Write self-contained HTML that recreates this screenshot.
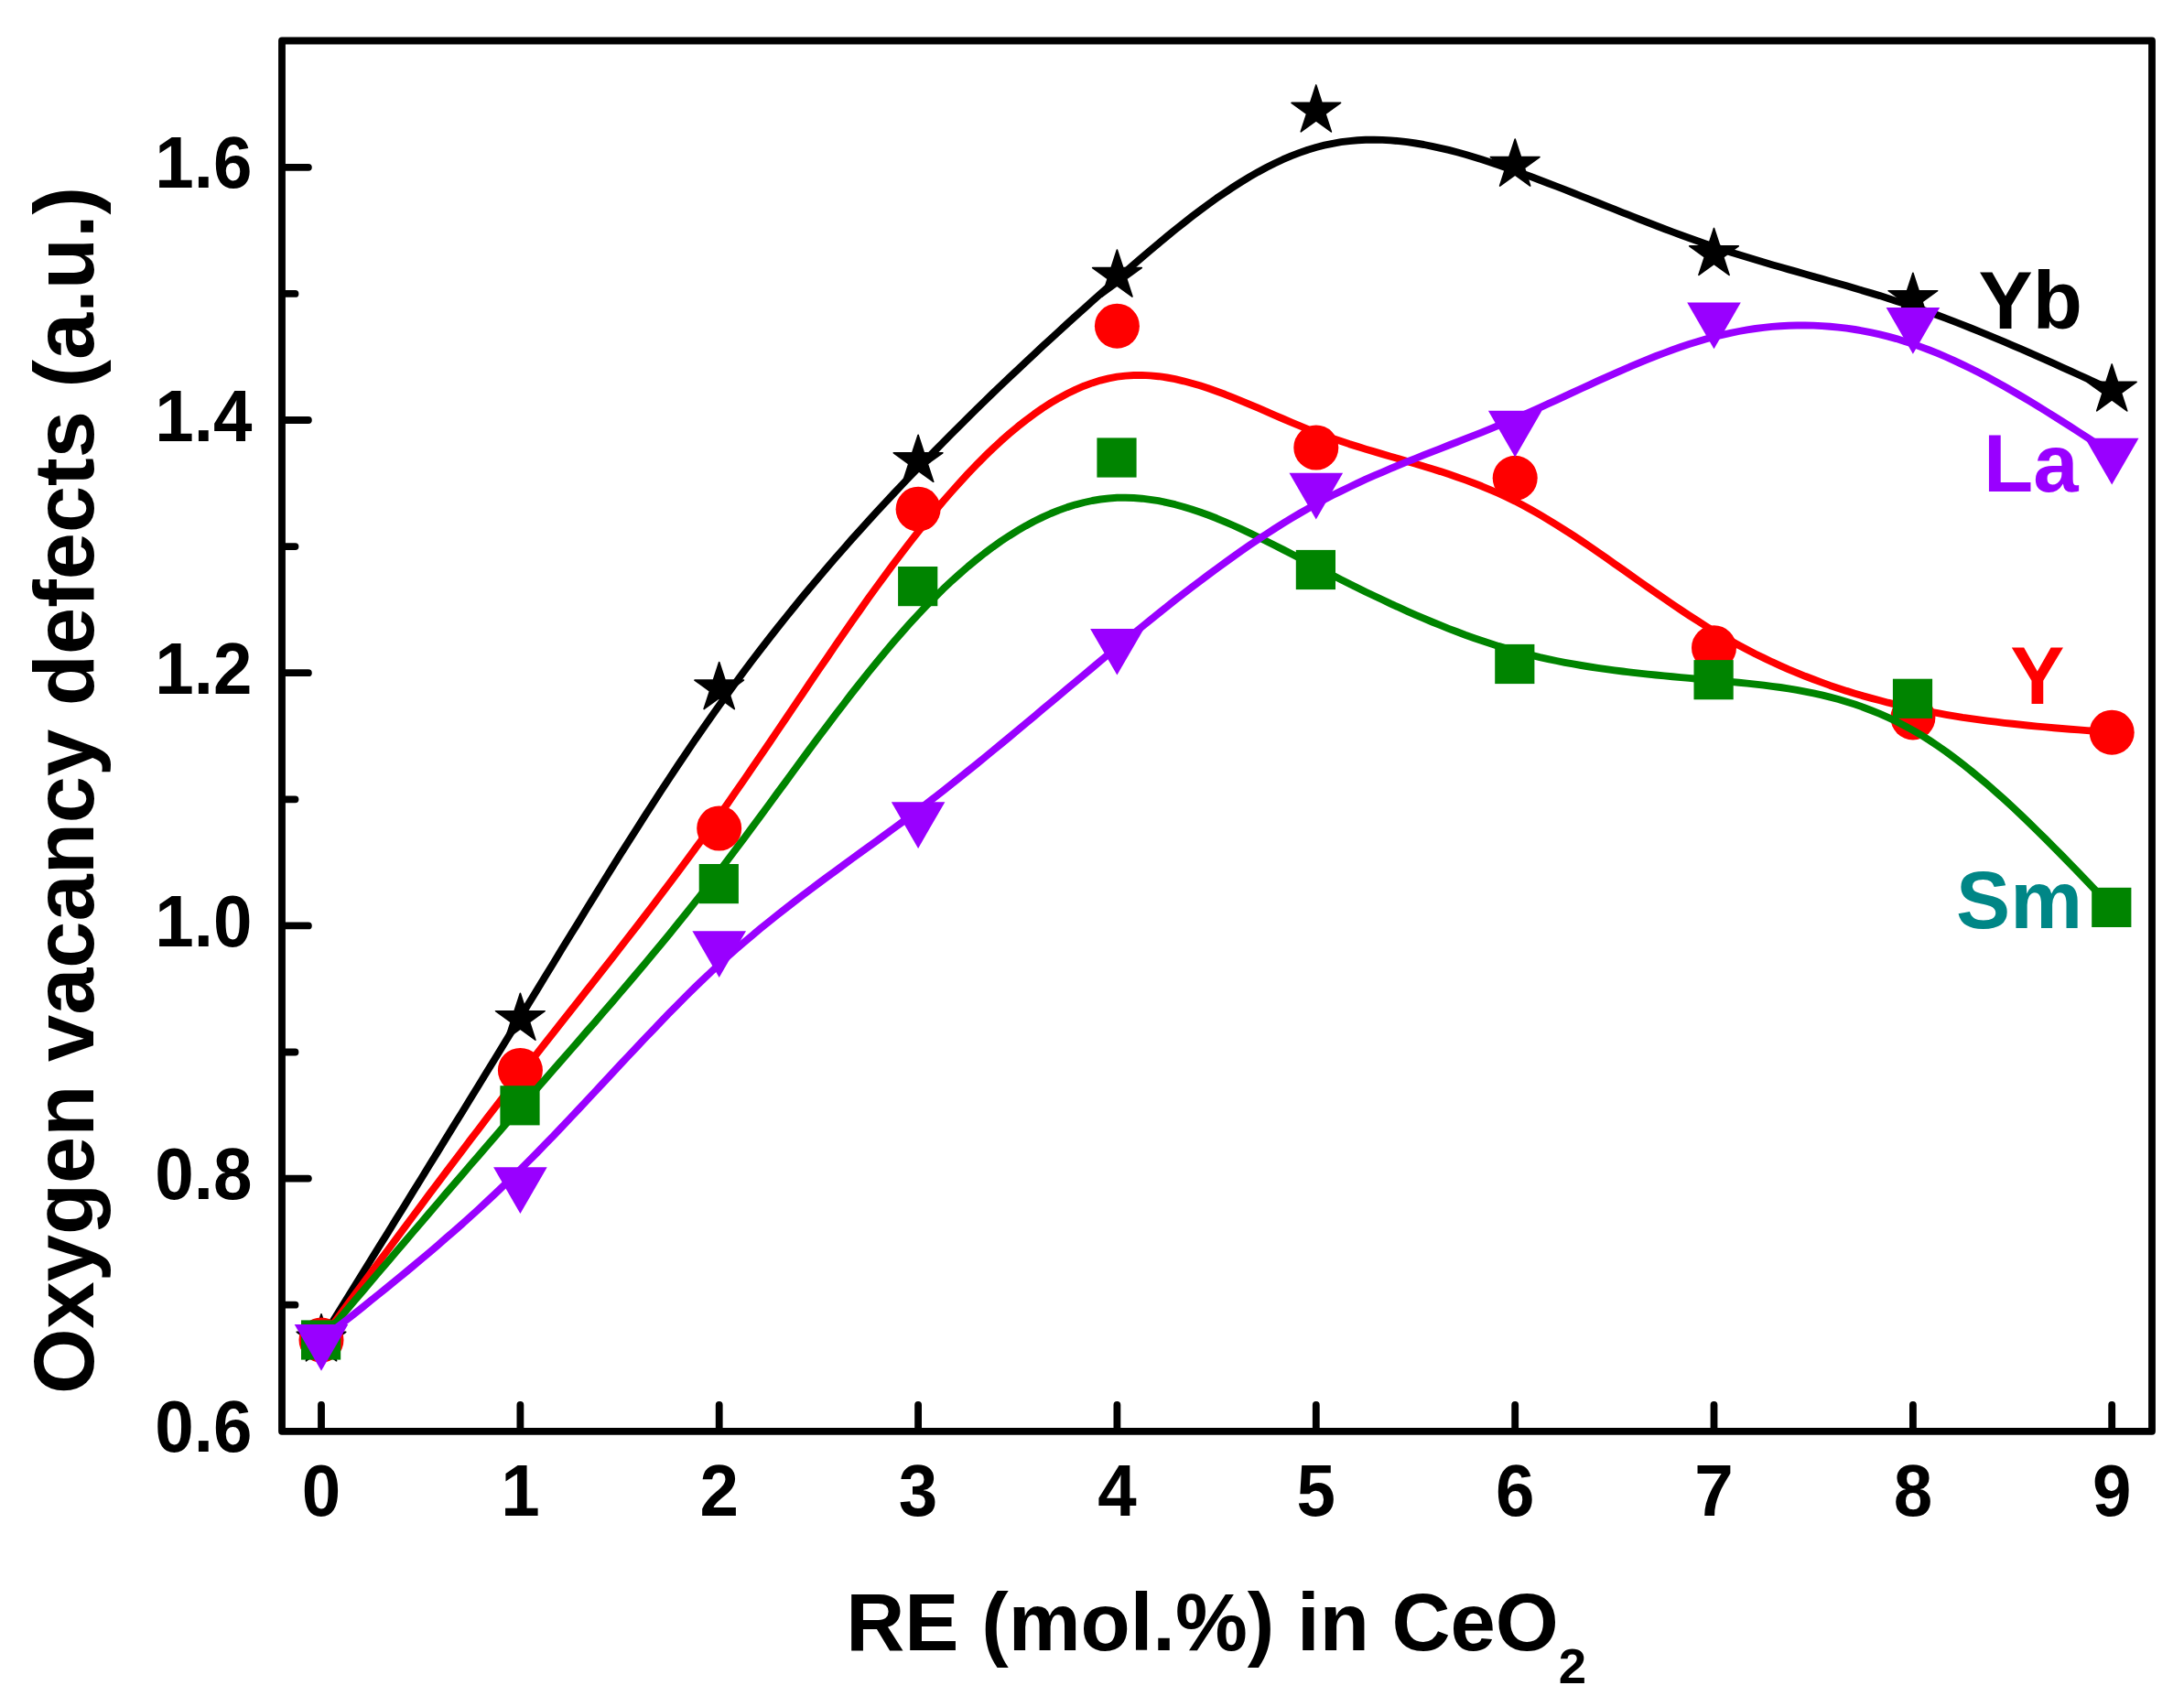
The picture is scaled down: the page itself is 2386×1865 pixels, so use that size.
<!DOCTYPE html>
<html lang="en"><head><meta charset="utf-8"><title>Oxygen vacancy defects vs RE (mol.%) in CeO2</title>
<style>html,body{margin:0;padding:0;background:#fff;}body{width:2386px;height:1865px;overflow:hidden;}svg{display:block;}text{font-kerning:none;font-family:"Liberation Sans",sans-serif;font-weight:bold;}</style></head><body>
<svg width="2386" height="1865" viewBox="0 0 2386 1865">
<rect width="2386" height="1865" fill="#fff"/>
<g fill="#000000" stroke="none">
<path d="M351.0 1464.0 L360.1 1449.4 L369.1 1434.8 L378.2 1420.2 L387.2 1405.6 L396.3 1390.9 L405.3 1376.3 L414.4 1361.7 L423.5 1347.1 L432.5 1332.4 L441.6 1317.8 L450.6 1303.1 L459.7 1288.5 L468.7 1273.8 L477.8 1259.1 L486.8 1244.4 L495.9 1229.7 L505.0 1215.0 L514.0 1200.3 L523.1 1185.5 L532.1 1170.8 L541.2 1156.0 L550.2 1141.2 L559.3 1126.4 L568.4 1111.6 L577.4 1096.7 L586.5 1081.9 L595.5 1067.0 L604.6 1052.2 L613.6 1037.3 L622.7 1022.5 L631.8 1007.8 L640.8 993.0 L649.9 978.3 L658.9 963.7 L668.0 949.2 L677.0 934.7 L686.1 920.4 L695.2 906.1 L704.2 891.9 L713.3 877.9 L722.3 863.9 L731.4 850.1 L740.4 836.5 L749.5 823.0 L758.5 809.6 L767.6 796.5 L776.7 783.5 L785.7 770.7 L794.8 758.1 L803.8 745.7 L812.9 733.4 L821.9 721.4 L831.0 709.5 L840.1 697.8 L849.1 686.3 L858.2 674.9 L867.2 663.7 L876.3 652.6 L885.3 641.7 L894.4 631.0 L903.5 620.3 L912.5 609.8 L921.6 599.5 L930.6 589.2 L939.7 579.1 L948.7 569.1 L957.8 559.2 L966.9 549.4 L975.9 539.7 L985.0 530.1 L994.0 520.6 L1003.1 511.2 L1012.1 501.8 L1021.2 492.6 L1030.2 483.4 L1039.3 474.3 L1048.4 465.2 L1057.4 456.2 L1066.5 447.3 L1075.5 438.5 L1084.6 429.7 L1093.6 421.0 L1102.7 412.4 L1111.8 403.8 L1120.8 395.3 L1129.9 386.8 L1138.9 378.4 L1148.0 370.1 L1157.0 361.8 L1166.1 353.5 L1175.2 345.3 L1184.2 337.2 L1193.3 329.0 L1202.3 321.0 L1211.4 313.0 L1220.4 305.0 L1229.5 297.0 L1238.6 289.1 L1247.6 281.3 L1256.7 273.6 L1265.7 265.9 L1274.8 258.4 L1283.8 251.0 L1292.9 243.8 L1302.0 236.7 L1311.0 229.8 L1320.1 223.1 L1329.1 216.6 L1338.2 210.4 L1347.2 204.4 L1356.3 198.6 L1365.3 193.1 L1374.4 187.9 L1383.5 183.0 L1392.5 178.5 L1401.6 174.2 L1410.6 170.4 L1419.7 166.9 L1428.7 163.7 L1437.8 161.0 L1446.9 158.7 L1455.9 156.8 L1465.0 155.2 L1474.0 154.1 L1483.1 153.3 L1492.1 152.8 L1501.2 152.7 L1510.3 152.9 L1519.3 153.4 L1528.4 154.1 L1537.4 155.2 L1546.5 156.5 L1555.5 158.0 L1564.6 159.8 L1573.7 161.8 L1582.7 163.9 L1591.8 166.3 L1600.8 168.8 L1609.9 171.5 L1618.9 174.3 L1628.0 177.2 L1637.0 180.3 L1646.1 183.4 L1655.2 186.6 L1664.2 189.9 L1673.3 193.3 L1682.3 196.7 L1691.4 200.2 L1700.4 203.6 L1709.5 207.2 L1718.6 210.7 L1727.6 214.3 L1736.7 217.9 L1745.7 221.5 L1754.8 225.1 L1763.8 228.7 L1772.9 232.3 L1782.0 235.9 L1791.0 239.5 L1800.1 243.0 L1809.1 246.5 L1818.2 250.0 L1827.2 253.4 L1836.3 256.7 L1845.3 260.0 L1854.4 263.3 L1863.5 266.4 L1872.5 269.5 L1881.6 272.5 L1890.6 275.4 L1899.7 278.3 L1908.7 281.1 L1917.8 283.8 L1926.9 286.5 L1935.9 289.2 L1945.0 291.8 L1954.0 294.4 L1963.1 296.9 L1972.1 299.5 L1981.2 302.1 L1990.3 304.6 L1999.3 307.2 L2008.4 309.7 L2017.4 312.3 L2026.5 315.0 L2035.5 317.7 L2044.6 320.4 L2053.7 323.1 L2062.7 326.0 L2071.8 328.9 L2080.8 331.8 L2089.9 334.9 L2098.9 338.0 L2108.0 341.2 L2117.1 344.5 L2126.1 347.9 L2135.2 351.4 L2144.2 354.9 L2153.3 358.5 L2162.3 362.1 L2171.4 365.9 L2180.4 369.6 L2189.5 373.4 L2198.6 377.3 L2207.6 381.2 L2216.7 385.2 L2225.7 389.2 L2234.8 393.2 L2243.8 397.2 L2252.9 401.3 L2262.0 405.4 L2271.0 409.5 L2280.1 413.7 L2289.1 417.8 L2298.2 421.9 L2307.2 426.1" fill="none" stroke="#000000" stroke-width="7.9" stroke-linejoin="round" stroke-linecap="butt"/>
<polygon points="351.0,1435.8 357.3,1455.3 377.8,1455.3 361.2,1467.3 367.6,1486.8 351.0,1474.8 334.4,1486.8 340.8,1467.3 324.2,1455.3 344.7,1455.3" stroke="#000" stroke-width="1.6" stroke-linejoin="round"/>
<polygon points="568.4,1085.2 574.7,1104.7 595.2,1104.7 578.6,1116.7 584.9,1136.2 568.4,1124.2 551.8,1136.2 558.1,1116.7 541.5,1104.7 562.0,1104.7" stroke="#000" stroke-width="1.6" stroke-linejoin="round"/>
<polygon points="785.7,723.6 792.1,743.1 812.5,743.1 796.0,755.1 802.3,774.6 785.7,762.6 769.1,774.6 775.5,755.1 758.9,743.1 779.4,743.1" stroke="#000" stroke-width="1.6" stroke-linejoin="round"/>
<polygon points="1003.1,475.3 1009.4,494.8 1029.9,494.8 1013.3,506.8 1019.7,526.3 1003.1,514.3 986.5,526.3 992.8,506.8 976.3,494.8 996.7,494.8" stroke="#000" stroke-width="1.6" stroke-linejoin="round"/>
<polygon points="1220.4,273.1 1226.8,292.6 1247.3,292.6 1230.7,304.6 1237.0,324.1 1220.4,312.1 1203.9,324.1 1210.2,304.6 1193.6,292.6 1214.1,292.6" stroke="#000" stroke-width="1.6" stroke-linejoin="round"/>
<polygon points="1437.8,92.9 1444.1,112.4 1464.6,112.4 1448.0,124.4 1454.4,143.9 1437.8,131.9 1421.2,143.9 1427.6,124.4 1411.0,112.4 1431.5,112.4" stroke="#000" stroke-width="1.6" stroke-linejoin="round"/>
<polygon points="1655.2,152.1 1661.5,171.6 1682.0,171.6 1665.4,183.6 1671.7,203.1 1655.2,191.1 1638.6,203.1 1644.9,183.6 1628.3,171.6 1648.8,171.6" stroke="#000" stroke-width="1.6" stroke-linejoin="round"/>
<polygon points="1872.5,249.4 1878.9,268.9 1899.3,268.9 1882.8,280.9 1889.1,300.4 1872.5,288.4 1855.9,300.4 1862.3,280.9 1845.7,268.9 1866.2,268.9" stroke="#000" stroke-width="1.6" stroke-linejoin="round"/>
<polygon points="2089.9,298.2 2096.2,317.7 2116.7,317.7 2100.1,329.7 2106.5,349.2 2089.9,337.2 2073.3,349.2 2079.6,329.7 2063.1,317.7 2083.5,317.7" stroke="#000" stroke-width="1.6" stroke-linejoin="round"/>
<polygon points="2307.2,397.9 2313.6,417.4 2334.1,417.4 2317.5,429.4 2323.8,448.9 2307.2,436.9 2290.7,448.9 2297.0,429.4 2280.4,417.4 2300.9,417.4" stroke="#000" stroke-width="1.6" stroke-linejoin="round"/>
</g>
<g fill="#ff0000" stroke="none">
<path d="M351.0 1464.0 L360.1 1451.7 L369.1 1439.5 L378.2 1427.2 L387.2 1414.9 L396.3 1402.7 L405.3 1390.4 L414.4 1378.2 L423.5 1366.0 L432.5 1353.8 L441.6 1341.6 L450.6 1329.5 L459.7 1317.3 L468.7 1305.2 L477.8 1293.1 L486.8 1281.1 L495.9 1269.1 L505.0 1257.1 L514.0 1245.2 L523.1 1233.3 L532.1 1221.4 L541.2 1209.6 L550.2 1197.8 L559.3 1186.1 L568.4 1174.4 L577.4 1162.8 L586.5 1151.2 L595.5 1139.7 L604.6 1128.2 L613.6 1116.7 L622.7 1105.2 L631.8 1093.7 L640.8 1082.2 L649.9 1070.7 L658.9 1059.2 L668.0 1047.7 L677.0 1036.1 L686.1 1024.4 L695.2 1012.7 L704.2 1001.0 L713.3 989.2 L722.3 977.2 L731.4 965.2 L740.4 953.1 L749.5 940.9 L758.5 928.6 L767.6 916.2 L776.7 903.6 L785.7 890.9 L794.8 878.1 L803.8 865.1 L812.9 852.0 L821.9 838.8 L831.0 825.6 L840.1 812.3 L849.1 798.9 L858.2 785.5 L867.2 772.1 L876.3 758.7 L885.3 745.3 L894.4 731.9 L903.5 718.7 L912.5 705.4 L921.6 692.3 L930.6 679.3 L939.7 666.4 L948.7 653.6 L957.8 641.0 L966.9 628.6 L975.9 616.4 L985.0 604.4 L994.0 592.6 L1003.1 581.0 L1012.1 569.7 L1021.2 558.7 L1030.2 547.9 L1039.3 537.5 L1048.4 527.3 L1057.4 517.5 L1066.5 508.1 L1075.5 498.9 L1084.6 490.2 L1093.6 481.8 L1102.7 473.8 L1111.8 466.2 L1120.8 459.1 L1129.9 452.3 L1138.9 446.0 L1148.0 440.2 L1157.0 434.9 L1166.1 430.0 L1175.2 425.6 L1184.2 421.7 L1193.3 418.4 L1202.3 415.6 L1211.4 413.4 L1220.4 411.7 L1229.5 410.6 L1238.6 410.0 L1247.6 409.9 L1256.7 410.4 L1265.7 411.2 L1274.8 412.5 L1283.8 414.2 L1292.9 416.3 L1302.0 418.7 L1311.0 421.3 L1320.1 424.3 L1329.1 427.5 L1338.2 430.8 L1347.2 434.4 L1356.3 438.1 L1365.3 441.9 L1374.4 445.7 L1383.5 449.7 L1392.5 453.6 L1401.6 457.5 L1410.6 461.4 L1419.7 465.2 L1428.7 468.9 L1437.8 472.4 L1446.9 475.8 L1455.9 479.0 L1465.0 482.1 L1474.0 485.1 L1483.1 487.9 L1492.1 490.7 L1501.2 493.4 L1510.3 496.1 L1519.3 498.8 L1528.4 501.4 L1537.4 504.1 L1546.5 506.7 L1555.5 509.5 L1564.6 512.3 L1573.7 515.1 L1582.7 518.1 L1591.8 521.2 L1600.8 524.4 L1609.9 527.8 L1618.9 531.3 L1628.0 535.1 L1637.0 539.0 L1646.1 543.2 L1655.2 547.6 L1664.2 552.3 L1673.3 557.3 L1682.3 562.4 L1691.4 567.8 L1700.4 573.3 L1709.5 579.1 L1718.6 584.9 L1727.6 590.9 L1736.7 597.1 L1745.7 603.3 L1754.8 609.6 L1763.8 615.9 L1772.9 622.3 L1782.0 628.7 L1791.0 635.1 L1800.1 641.4 L1809.1 647.8 L1818.2 654.1 L1827.2 660.3 L1836.3 666.4 L1845.3 672.4 L1854.4 678.2 L1863.5 684.0 L1872.5 689.5 L1881.6 694.9 L1890.6 700.0 L1899.7 705.0 L1908.7 709.8 L1917.8 714.5 L1926.9 718.9 L1935.9 723.2 L1945.0 727.3 L1954.0 731.3 L1963.1 735.1 L1972.1 738.8 L1981.2 742.3 L1990.3 745.6 L1999.3 748.9 L2008.4 751.9 L2017.4 754.9 L2026.5 757.7 L2035.5 760.4 L2044.6 762.9 L2053.7 765.3 L2062.7 767.7 L2071.8 769.8 L2080.8 771.9 L2089.9 773.9 L2098.9 775.8 L2108.0 777.6 L2117.1 779.2 L2126.1 780.8 L2135.2 782.3 L2144.2 783.8 L2153.3 785.1 L2162.3 786.4 L2171.4 787.6 L2180.4 788.7 L2189.5 789.8 L2198.6 790.8 L2207.6 791.8 L2216.7 792.7 L2225.7 793.6 L2234.8 794.4 L2243.8 795.2 L2252.9 796.0 L2262.0 796.7 L2271.0 797.4 L2280.1 798.1 L2289.1 798.8 L2298.2 799.5 L2307.2 800.2" fill="none" stroke="#ff0000" stroke-width="7.9" stroke-linejoin="round" stroke-linecap="butt"/>
<circle cx="351.0" cy="1464.0" r="24.5"/>
<circle cx="568.4" cy="1169.4" r="24.5"/>
<circle cx="785.7" cy="905.0" r="24.5"/>
<circle cx="1003.1" cy="556.2" r="24.5"/>
<circle cx="1220.4" cy="356.2" r="24.5"/>
<circle cx="1437.8" cy="489.0" r="24.5"/>
<circle cx="1655.2" cy="522.3" r="24.5"/>
<circle cx="1872.5" cy="707.7" r="24.5"/>
<circle cx="2089.9" cy="783.9" r="24.5"/>
<circle cx="2307.2" cy="800.2" r="24.5"/>
</g>
<g fill="#008400" stroke="none">
<path d="M351.0 1464.0 L360.1 1453.3 L369.1 1442.7 L378.2 1432.0 L387.2 1421.3 L396.3 1410.6 L405.3 1400.0 L414.4 1389.3 L423.5 1378.7 L432.5 1368.0 L441.6 1357.4 L450.6 1346.8 L459.7 1336.2 L468.7 1325.6 L477.8 1315.0 L486.8 1304.4 L495.9 1293.9 L505.0 1283.4 L514.0 1272.8 L523.1 1262.3 L532.1 1251.9 L541.2 1241.4 L550.2 1230.9 L559.3 1220.5 L568.4 1210.1 L577.4 1199.8 L586.5 1189.4 L595.5 1179.1 L604.6 1168.7 L613.6 1158.4 L622.7 1148.0 L631.8 1137.6 L640.8 1127.2 L649.9 1116.8 L658.9 1106.3 L668.0 1095.8 L677.0 1085.3 L686.1 1074.6 L695.2 1063.9 L704.2 1053.2 L713.3 1042.3 L722.3 1031.4 L731.4 1020.4 L740.4 1009.2 L749.5 998.0 L758.5 986.6 L767.6 975.2 L776.7 963.5 L785.7 951.8 L794.8 939.9 L803.8 927.9 L812.9 915.8 L821.9 903.6 L831.0 891.3 L840.1 879.0 L849.1 866.7 L858.2 854.3 L867.2 842.0 L876.3 829.7 L885.3 817.4 L894.4 805.2 L903.5 793.1 L912.5 781.1 L921.6 769.3 L930.6 757.5 L939.7 746.0 L948.7 734.6 L957.8 723.4 L966.9 712.5 L975.9 701.8 L985.0 691.3 L994.0 681.2 L1003.1 671.3 L1012.1 661.8 L1021.2 652.6 L1030.2 643.7 L1039.3 635.2 L1048.4 627.0 L1057.4 619.1 L1066.5 611.6 L1075.5 604.5 L1084.6 597.7 L1093.6 591.3 L1102.7 585.3 L1111.8 579.6 L1120.8 574.4 L1129.9 569.5 L1138.9 565.1 L1148.0 561.0 L1157.0 557.4 L1166.1 554.1 L1175.2 551.3 L1184.2 549.0 L1193.3 547.0 L1202.3 545.5 L1211.4 544.5 L1220.4 543.8 L1229.5 543.7 L1238.6 544.0 L1247.6 544.7 L1256.7 545.8 L1265.7 547.2 L1274.8 549.1 L1283.8 551.2 L1292.9 553.7 L1302.0 556.5 L1311.0 559.5 L1320.1 562.8 L1329.1 566.3 L1338.2 570.1 L1347.2 574.0 L1356.3 578.1 L1365.3 582.3 L1374.4 586.7 L1383.5 591.2 L1392.5 595.8 L1401.6 600.4 L1410.6 605.1 L1419.7 609.8 L1428.7 614.5 L1437.8 619.2 L1446.9 623.9 L1455.9 628.6 L1465.0 633.2 L1474.0 637.7 L1483.1 642.2 L1492.1 646.7 L1501.2 651.0 L1510.3 655.3 L1519.3 659.6 L1528.4 663.7 L1537.4 667.8 L1546.5 671.8 L1555.5 675.7 L1564.6 679.5 L1573.7 683.2 L1582.7 686.8 L1591.8 690.3 L1600.8 693.7 L1609.9 696.9 L1618.9 700.0 L1628.0 703.0 L1637.0 705.9 L1646.1 708.6 L1655.2 711.2 L1664.2 713.6 L1673.3 715.9 L1682.3 718.1 L1691.4 720.1 L1700.4 722.0 L1709.5 723.8 L1718.6 725.4 L1727.6 727.0 L1736.7 728.5 L1745.7 729.9 L1754.8 731.2 L1763.8 732.4 L1772.9 733.5 L1782.0 734.6 L1791.0 735.6 L1800.1 736.6 L1809.1 737.5 L1818.2 738.4 L1827.2 739.3 L1836.3 740.1 L1845.3 740.9 L1854.4 741.7 L1863.5 742.5 L1872.5 743.3 L1881.6 744.1 L1890.6 744.9 L1899.7 745.7 L1908.7 746.6 L1917.8 747.6 L1926.9 748.6 L1935.9 749.8 L1945.0 751.0 L1954.0 752.4 L1963.1 753.9 L1972.1 755.6 L1981.2 757.4 L1990.3 759.4 L1999.3 761.6 L2008.4 764.0 L2017.4 766.7 L2026.5 769.6 L2035.5 772.7 L2044.6 776.2 L2053.7 779.9 L2062.7 783.9 L2071.8 788.2 L2080.8 792.9 L2089.9 797.9 L2098.9 803.2 L2108.0 808.9 L2117.1 815.0 L2126.1 821.3 L2135.2 828.0 L2144.2 834.9 L2153.3 842.1 L2162.3 849.6 L2171.4 857.3 L2180.4 865.2 L2189.5 873.3 L2198.6 881.7 L2207.6 890.2 L2216.7 898.9 L2225.7 907.7 L2234.8 916.6 L2243.8 925.7 L2252.9 934.9 L2262.0 944.2 L2271.0 953.5 L2280.1 963.0 L2289.1 972.4 L2298.2 981.9 L2307.2 991.4" fill="none" stroke="#008400" stroke-width="7.9" stroke-linejoin="round" stroke-linecap="butt"/>
<rect x="329.0" y="1442.4" width="43.2" height="43.2"/>
<rect x="546.4" y="1186.2" width="43.2" height="43.2"/>
<rect x="763.7" y="944.0" width="43.2" height="43.2"/>
<rect x="981.1" y="619.0" width="43.2" height="43.2"/>
<rect x="1198.4" y="478.4" width="43.2" height="43.2"/>
<rect x="1415.8" y="600.9" width="43.2" height="43.2"/>
<rect x="1633.2" y="703.9" width="43.2" height="43.2"/>
<rect x="1850.5" y="721.1" width="43.2" height="43.2"/>
<rect x="2067.9" y="741.7" width="43.2" height="43.2"/>
<rect x="2285.2" y="969.8" width="43.2" height="43.2"/>
</g>
<g fill="#9900ff" stroke="none">
<path d="M351.0 1464.0 L360.1 1456.8 L369.1 1449.7 L378.2 1442.5 L387.2 1435.3 L396.3 1428.1 L405.3 1420.8 L414.4 1413.5 L423.5 1406.2 L432.5 1398.8 L441.6 1391.4 L450.6 1383.9 L459.7 1376.3 L468.7 1368.7 L477.8 1360.9 L486.8 1353.1 L495.9 1345.2 L505.0 1337.2 L514.0 1329.1 L523.1 1320.9 L532.1 1312.5 L541.2 1304.0 L550.2 1295.4 L559.3 1286.7 L568.4 1277.8 L577.4 1268.8 L586.5 1259.6 L595.5 1250.3 L604.6 1241.0 L613.6 1231.5 L622.7 1221.9 L631.8 1212.3 L640.8 1202.6 L649.9 1192.9 L658.9 1183.2 L668.0 1173.5 L677.0 1163.8 L686.1 1154.1 L695.2 1144.5 L704.2 1134.9 L713.3 1125.4 L722.3 1116.0 L731.4 1106.6 L740.4 1097.4 L749.5 1088.3 L758.5 1079.4 L767.6 1070.6 L776.7 1062.0 L785.7 1053.6 L794.8 1045.4 L803.8 1037.4 L812.9 1029.5 L821.9 1021.9 L831.0 1014.3 L840.1 1007.0 L849.1 999.7 L858.2 992.6 L867.2 985.6 L876.3 978.6 L885.3 971.8 L894.4 965.0 L903.5 958.3 L912.5 951.7 L921.6 945.0 L930.6 938.4 L939.7 931.8 L948.7 925.3 L957.8 918.7 L966.9 912.0 L975.9 905.4 L985.0 898.7 L994.0 891.9 L1003.1 885.0 L1012.1 878.1 L1021.2 871.1 L1030.2 864.1 L1039.3 856.9 L1048.4 849.7 L1057.4 842.4 L1066.5 835.1 L1075.5 827.7 L1084.6 820.3 L1093.6 812.9 L1102.7 805.4 L1111.8 797.8 L1120.8 790.3 L1129.9 782.7 L1138.9 775.1 L1148.0 767.5 L1157.0 760.0 L1166.1 752.3 L1175.2 744.8 L1184.2 737.2 L1193.3 729.6 L1202.3 722.0 L1211.4 714.5 L1220.4 707.0 L1229.5 699.5 L1238.6 692.1 L1247.6 684.7 L1256.7 677.4 L1265.7 670.1 L1274.8 662.9 L1283.8 655.7 L1292.9 648.7 L1302.0 641.7 L1311.0 634.8 L1320.1 628.0 L1329.1 621.3 L1338.2 614.7 L1347.2 608.2 L1356.3 601.8 L1365.3 595.6 L1374.4 589.4 L1383.5 583.5 L1392.5 577.6 L1401.6 571.9 L1410.6 566.4 L1419.7 561.0 L1428.7 555.8 L1437.8 550.7 L1446.9 545.8 L1455.9 541.1 L1465.0 536.6 L1474.0 532.2 L1483.1 527.9 L1492.1 523.7 L1501.2 519.7 L1510.3 515.8 L1519.3 511.9 L1528.4 508.1 L1537.4 504.4 L1546.5 500.8 L1555.5 497.2 L1564.6 493.6 L1573.7 490.1 L1582.7 486.5 L1591.8 483.0 L1600.8 479.4 L1609.9 475.9 L1618.9 472.3 L1628.0 468.6 L1637.0 464.9 L1646.1 461.2 L1655.2 457.3 L1664.2 453.4 L1673.3 449.4 L1682.3 445.3 L1691.4 441.2 L1700.4 437.1 L1709.5 432.9 L1718.6 428.7 L1727.6 424.5 L1736.7 420.4 L1745.7 416.2 L1754.8 412.1 L1763.8 408.1 L1772.9 404.1 L1782.0 400.2 L1791.0 396.4 L1800.1 392.6 L1809.1 389.0 L1818.2 385.6 L1827.2 382.2 L1836.3 379.0 L1845.3 376.0 L1854.4 373.2 L1863.5 370.5 L1872.5 368.0 L1881.6 365.8 L1890.6 363.8 L1899.7 362.0 L1908.7 360.4 L1917.8 359.0 L1926.9 357.9 L1935.9 356.9 L1945.0 356.2 L1954.0 355.7 L1963.1 355.5 L1972.1 355.4 L1981.2 355.6 L1990.3 356.1 L1999.3 356.7 L2008.4 357.6 L2017.4 358.7 L2026.5 360.0 L2035.5 361.6 L2044.6 363.4 L2053.7 365.4 L2062.7 367.6 L2071.8 370.1 L2080.8 372.9 L2089.9 375.8 L2098.9 379.1 L2108.0 382.5 L2117.1 386.1 L2126.1 390.0 L2135.2 394.1 L2144.2 398.3 L2153.3 402.7 L2162.3 407.3 L2171.4 412.1 L2180.4 417.0 L2189.5 422.0 L2198.6 427.2 L2207.6 432.5 L2216.7 437.9 L2225.7 443.4 L2234.8 449.0 L2243.8 454.6 L2252.9 460.4 L2262.0 466.2 L2271.0 472.0 L2280.1 477.9 L2289.1 483.8 L2298.2 489.8 L2307.2 495.7" fill="none" stroke="#9900ff" stroke-width="7.9" stroke-linejoin="round" stroke-linecap="butt"/>
<polygon points="321.7,1447.1 380.3,1447.1 351.0,1497.8"/>
<polygon points="539.1,1275.3 597.7,1275.3 568.4,1326.0"/>
<polygon points="756.4,1017.2 815.0,1017.2 785.7,1067.9"/>
<polygon points="973.8,876.2 1032.4,876.2 1003.1,926.9"/>
<polygon points="1191.1,686.9 1249.7,686.9 1220.4,737.6"/>
<polygon points="1408.5,516.8 1467.1,516.8 1437.8,567.5"/>
<polygon points="1625.9,448.8 1684.5,448.8 1655.2,499.5"/>
<polygon points="1843.2,330.5 1901.8,330.5 1872.5,381.2"/>
<polygon points="2060.6,336.1 2119.2,336.1 2089.9,386.8"/>
<polygon points="2277.9,478.8 2336.5,478.8 2307.2,529.5"/>
</g>
<g stroke="#000" stroke-width="7.8" stroke-linecap="round" fill="none">
<path d="M308.0 44.5 H2351.0 M308.0 1563.8 H2351.0 M308.0 44.5 V1563.8 M2351.0 44.5 V1563.8"/>
<path d="M351.0 1561.8 V1534.9 M568.4 1561.8 V1534.9 M785.7 1561.8 V1534.9 M1003.1 1561.8 V1534.9 M1220.4 1561.8 V1534.9 M1437.8 1561.8 V1534.9 M1655.2 1561.8 V1534.9 M1872.5 1561.8 V1534.9 M2089.9 1561.8 V1534.9 M2307.2 1561.8 V1534.9 M310.0 1425.7 H322.5 M310.0 1287.6 H336.9 M310.0 1149.5 H322.5 M310.0 1011.4 H336.9 M310.0 873.3 H322.5 M310.0 735.2 H336.9 M310.0 597.1 H322.5 M310.0 459.0 H336.9 M310.0 320.9 H322.5 M310.0 182.8 H336.9"/>
</g>
<g font-size="76.4" fill="#000">
<text transform="translate(275.5 1586.3) scale(1 1.045)" text-anchor="end">0.6</text>
<text transform="translate(275.5 1310.1) scale(1 1.045)" text-anchor="end">0.8</text>
<text transform="translate(275.5 1033.9) scale(1 1.045)" text-anchor="end">1.0</text>
<text transform="translate(275.5 757.7) scale(1 1.045)" text-anchor="end">1.2</text>
<text transform="translate(275.5 481.5) scale(1 1.045)" text-anchor="end">1.4</text>
<text transform="translate(275.5 205.3) scale(1 1.045)" text-anchor="end">1.6</text>
<text transform="translate(351.0 1656.2) scale(1 1.045)" text-anchor="middle">0</text>
<text transform="translate(568.4 1656.2) scale(1 1.045)" text-anchor="middle">1</text>
<text transform="translate(785.7 1656.2) scale(1 1.045)" text-anchor="middle">2</text>
<text transform="translate(1003.1 1656.2) scale(1 1.045)" text-anchor="middle">3</text>
<text transform="translate(1220.4 1656.2) scale(1 1.045)" text-anchor="middle">4</text>
<text transform="translate(1437.8 1656.2) scale(1 1.045)" text-anchor="middle">5</text>
<text transform="translate(1655.2 1656.2) scale(1 1.045)" text-anchor="middle">6</text>
<text transform="translate(1872.5 1656.2) scale(1 1.045)" text-anchor="middle">7</text>
<text transform="translate(2089.9 1656.2) scale(1 1.045)" text-anchor="middle">8</text>
<text transform="translate(2307.2 1656.2) scale(1 1.045)" text-anchor="middle">9</text>
</g>
<text x="924.3" y="1803.4" font-size="88.7" fill="#000">RE (mol.%) in CeO<tspan font-size="54.5" dy="35.3">2</tspan></text>
<text transform="translate(101.8 1523) rotate(-90)" font-size="92" fill="#000">Oxygen vacancy defects (a.u.)</text>
<text x="2161.6" y="358.8" font-size="88.7" fill="#000">Yb</text>
<text x="2167" y="536.8" font-size="88.7" fill="#9900ff">La</text>
<text x="2196.3" y="768.6" font-size="88.7" fill="#ff0000">Y</text>
<text x="2137" y="1014.3" font-size="88.7" fill="#008686">Sm</text>
</svg></body></html>
